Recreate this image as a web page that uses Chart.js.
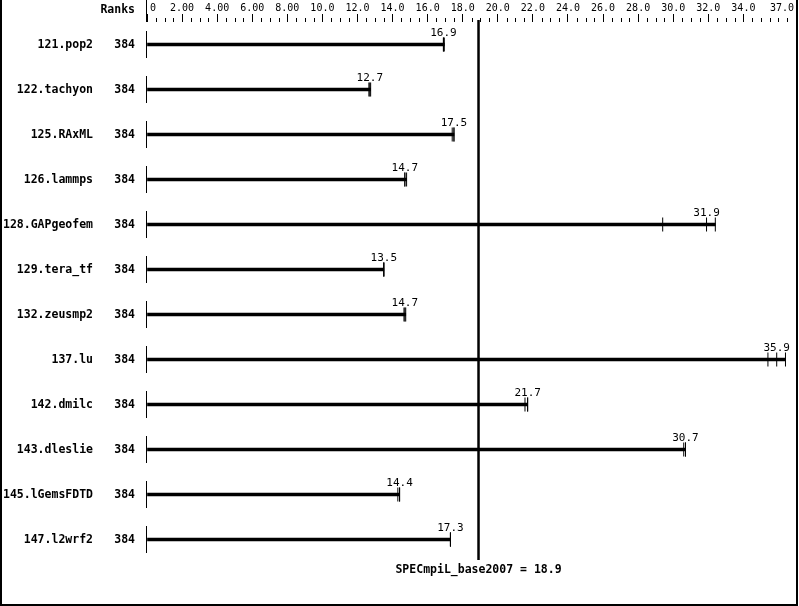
<!DOCTYPE html>
<html>
<head>
<meta charset="utf-8">
<script src="https://cdn.jsdelivr.net/npm/chart.js@4/dist/chart.umd.min.js"></script>
<style>
  html, body { margin: 0; padding: 0; background: #fff; overflow: hidden; }
  canvas { display: block; }
</style>
</head>
<body>
<canvas id="spec-chart" width="799" height="606"></canvas>
<script>
// Benchmarks, ranks and the three base runs of each one
const benchmarks = ['121.pop2', '122.tachyon', '125.RAxML', '126.lammps', '128.GAPgeofem', '129.tera_tf',
    '132.zeusmp2', '137.lu', '142.dmilc', '143.dleslie', '145.lGemsFDTD', '147.l2wrf2'];
const ranks = [384, 384, 384, 384, 384, 384, 384, 384, 384, 384, 384, 384];
const medians = [16.9, 12.7, 17.5, 14.7, 31.9, 13.5, 14.7, 35.9, 21.7, 30.7, 14.4, 17.3];
const runs = [
    [16.9, 16.9, 16.95],
    [12.65, 12.7, 12.75],
    [17.4, 17.5, 17.5],
    [14.7, 14.7, 14.8],
    [29.4, 31.9, 32.4],
    [13.5, 13.5, 13.5],
    [14.65, 14.7, 14.75],
    [35.4, 35.9, 36.4],
    [21.55, 21.7, 21.7],
    [30.6, 30.7, 30.7],
    [14.3, 14.4, 14.4],
    [17.3, 17.3, 17.3],
];
const baseScore = 18.9;
const scoreName = 'SPECmpiL_base2007';

// Top axis
const axisValues = [0, 2, 4, 6, 8, 10, 12, 14, 16, 18, 20, 22, 24, 26, 28, 30, 32, 34, 37];
const axisLabels = ['0', '2.00', '4.00', '6.00', '8.00', '10.0', '12.0', '14.0', '16.0', '18.0',
    '20.0', '22.0', '24.0', '26.0', '28.0', '30.0', '32.0', '34.0', '37.0'];
const minorStep = 0.5;

const boldFont = 'bold 11.5px "DejaVu Sans Mono"';
const valueFont = '11px "DejaVu Sans Mono"';
const axisFont = '10px "DejaVu Sans Mono"';

const tickValues = [];
for (let i = 0; i <= 37 / minorStep; i++) tickValues.push(i * minorStep);

// Texts, minor ticks, median line and the frame
const decor = {
    id: 'decor',
    afterDatasetsDraw(chart) {
        const { ctx, chartArea: a, scales: { x, y } } = chart;
        ctx.save();
        ctx.strokeStyle = '#000';
        ctx.fillStyle = '#000';

        // minor ticks and the zero tick
        ctx.lineWidth = 1;
        ctx.beginPath();
        tickValues.forEach(v => {
            if (axisValues.includes(v)) return;
            const px = Math.round(x.getPixelForValue(v)) + 0.5;
            ctx.moveTo(px, a.top - 4);
            ctx.lineTo(px, a.top);
        });
        const zx = Math.round(x.getPixelForValue(0)) - 0.5;
        ctx.moveTo(zx, 0);
        ctx.lineTo(zx, a.top);
        ctx.stroke();

        // axis labels
        ctx.font = axisFont;
        ctx.textBaseline = 'middle';
        axisValues.forEach((v, i) => {
            const px = x.getPixelForValue(v);
            if (i === 0) { ctx.textAlign = 'left'; ctx.fillText(axisLabels[i], px + 3, 8); }
            else if (i === axisValues.length - 1) { ctx.textAlign = 'right'; ctx.fillText(axisLabels[i], px - 2, 8); }
            else { ctx.textAlign = 'center'; ctx.fillText(axisLabels[i], px, 8); }
        });

        // header
        ctx.font = boldFont;
        ctx.textAlign = 'right';
        ctx.fillText('Ranks', 135, 10);

        benchmarks.forEach((name, i) => {
            const py = y.getPixelForValue(i);
            ctx.font = boldFont;
            ctx.textAlign = 'right';
            ctx.fillText(name, 93, py + 1);
            ctx.fillText(String(ranks[i]), 135, py + 1);

            // row axis segment
            ctx.beginPath();
            ctx.lineWidth = 1;
            ctx.moveTo(zx, py - 13.5);
            ctx.lineTo(zx, py + 13.5);
            ctx.stroke();

            // median value
            ctx.font = valueFont;
            ctx.textAlign = 'center';
            ctx.fillText(medians[i].toFixed(1), x.getPixelForValue(medians[i]), py - 11);
        });

        // overall score line
        const sx = x.getPixelForValue(baseScore);
        ctx.beginPath();
        ctx.lineWidth = 2.5;
        ctx.moveTo(sx, a.top - 2);
        ctx.lineTo(sx, a.bottom - 2);
        ctx.stroke();
        ctx.font = boldFont;
        ctx.textAlign = 'center';
        ctx.fillText(scoreName + ' = ' + baseScore.toFixed(1), sx, 570);

        // frame
        ctx.beginPath();
        ctx.lineWidth = 2;
        ctx.moveTo(1, 0);
        ctx.lineTo(1, 605);
        ctx.lineTo(797, 605);
        ctx.lineTo(797, 0);
        ctx.stroke();
        ctx.restore();
    }
};

new Chart(document.getElementById('spec-chart'), {
    type: 'bar',
    data: {
        labels: benchmarks,
        datasets: [
            {
                label: 'range',
                data: runs.map(r => [0, Math.max(...r)]),
                backgroundColor: '#000',
                borderWidth: 0,
                barThickness: 3,
            },
            {
                type: 'scatter',
                label: 'runs',
                data: runs.flatMap((r, i) => r.map(v => ({ x: v, y: benchmarks[i] }))),
                pointStyle: 'line',
                rotation: 90,
                radius: 7,
                hoverRadius: 7,
                borderWidth: 1,
                borderColor: '#000',
                backgroundColor: '#000',
            }
        ]
    },
    options: {
        indexAxis: 'y',
        responsive: false,
        animation: false,
        devicePixelRatio: 1,
        events: [],
        layout: {
            autoPadding: false,
            padding: { left: 147, right: 3, top: 14, bottom: 44 },
        },
        scales: {
            x: {
                type: 'linear',
                position: 'top',
                min: 0,
                max: 37,
                afterBuildTicks: scale => {
                    scale.ticks = axisValues.map(v => ({ value: v }));
                },
                ticks: { display: false },
                grid: {
                    drawOnChartArea: false,
                    drawTicks: true,
                    tickLength: 8,
                    tickColor: '#000',
                    tickWidth: 1,
                },
                border: { display: false },
            },
            y: {
                type: 'category',
                display: false,
            },
        },
        plugins: {
            legend: { display: false },
            tooltip: { enabled: false },
        },
    },
    plugins: [decor],
});
</script>
</body>
</html>
